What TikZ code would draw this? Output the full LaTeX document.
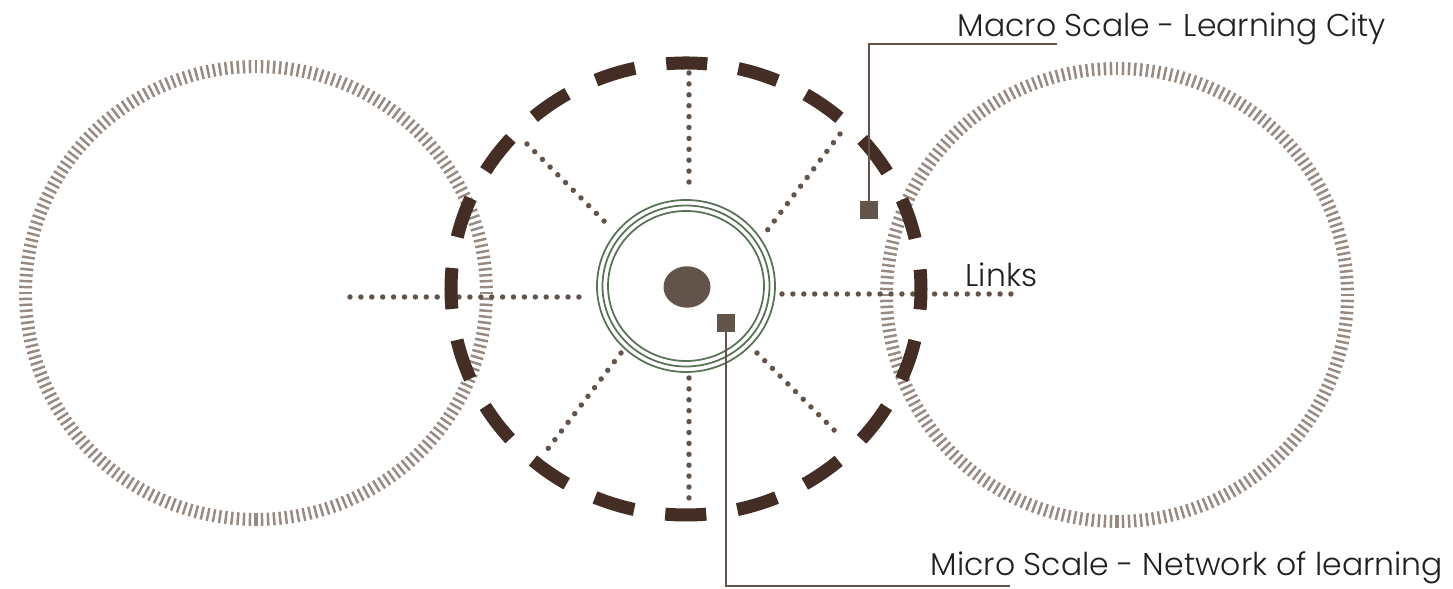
\documentclass[tikz,border=0pt]{standalone}
\usepackage{fontspec}
\newfontfamily\capfont{Poppins Light}
\usetikzlibrary{calc, positioning}
\definecolor{tickgrey}{HTML}{978A83}
\definecolor{rimbrown}{HTML}{432D24}
\definecolor{dotbrown}{HTML}{62544A}
\definecolor{ringgreen}{HTML}{587256}
\definecolor{textdark}{HTML}{231F20}
\tikzset{
  ticks/.style={draw=tickgrey, line width=0.7pt},
  rim/.style={draw=rimbrown, line width=3.7pt,
              dash pattern=on 11.67pt off 8.94pt, dash phase=5.83pt},
  spoke/.style={draw=dotbrown, line width=1.55pt, line cap=round,
                dash pattern=on 0pt off 3.1pt},
  ring/.style={draw=ringgreen, line width=0.5pt},
  tagsq/.style={rectangle, fill=dotbrown, inner sep=0pt, minimum size=0.175cm},
  leader/.style={draw=dotbrown, line width=0.6pt},
  caption/.style={font=\capfont\fontsize{8.95}{10}\selectfont, text=textdark, inner sep=0pt},
}
\def\tickout{237 and 233}
\def\tickin{224 and 220}

\begin{document}
\begin{tikzpicture}[x=0.01cm, y=-0.01cm]
\useasboundingbox (0,0) rectangle (1453,589);

% Centres
\coordinate (lcity) at (256,293);
\coordinate (rcity) at (1117,295);
\coordinate (core)  at (686,289);
\coordinate (hub)   at (687,287);

% Neighbouring cities (tick rings)
\foreach \a in {0,1.5,...,358.5} {
  \draw[ticks] (lcity) +(\a:\tickin) -- +(\a:\tickout);
  \draw[ticks] (rcity) +(\a:\tickin) -- +(\a:\tickout);
}
\draw[ticks, line width=1.1pt] (lcity) +(90:\tickin) -- +(90:\tickout);
\draw[ticks, line width=1.1pt] (rcity) +(90:\tickin) -- +(90:\tickout);

% Links (dotted spokes)
\draw[spoke] (350,297) -- (585,297);
\draw[spoke] (782,294) -- (1015,294);
\draw[spoke] (689,73)  -- (689,192);
\draw[spoke] (689,378) -- (689,498);
\draw[spoke] (527,144) -- (611,228);
\draw[spoke] (840,134) -- (766,232);
\draw[spoke] (621,353) -- (547,450);
\draw[spoke] (757,353) -- (841,437);

% Learning city boundary
\draw[rim] (core) ellipse (235 and 226);

% Network of learning
\draw[ring] (686,286) ellipse (89 and 86);
\draw[ring] (686,286) ellipse (83.5 and 80.5);
\draw[ring] (686,286) ellipse (78 and 75);
\fill[dotbrown] (hub) ellipse (23.5 and 20.7);

% Markers and labels
\node[tagsq] (macrosq) at (869,210) {};
\node[tagsq] (microsq) at (726,323) {};
\coordinate (macroend) at (1057,44);
\coordinate (microend) at (1010,586);
\draw[leader] (macrosq.north) |- (macroend);
\draw[leader] (microsq.south) |- (microend);

\node[caption, anchor=base west] (macrolbl) at (957,37)  {Macro Scale - Learning City};
\node[caption, anchor=base west] (microlbl) at (930,576) {Micro Scale - Network of learning};
\node[caption, anchor=base west] (linkslbl) at (965,287) {Links};

\end{tikzpicture}
\end{document}
